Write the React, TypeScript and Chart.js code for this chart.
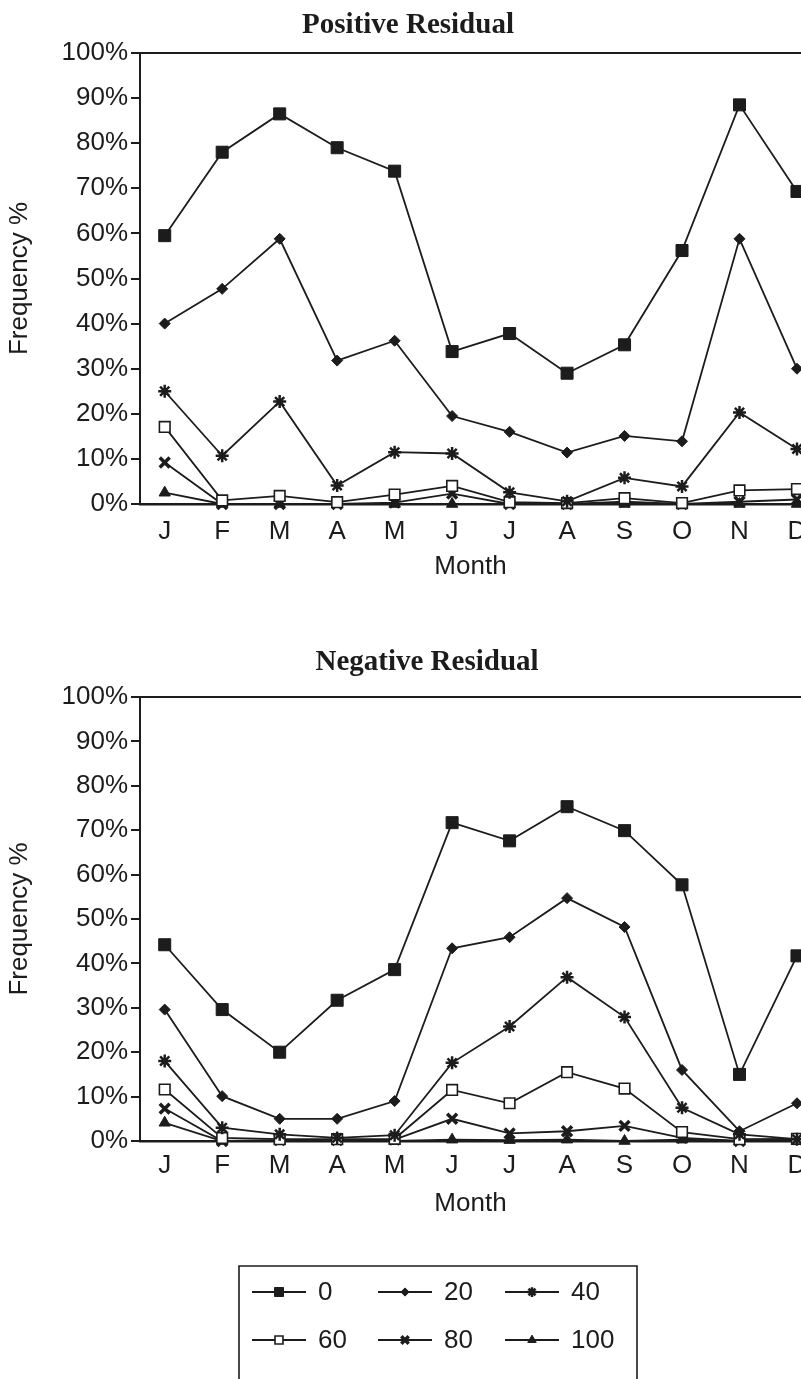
import React, { useEffect, useRef } from "react";
import { Chart, registerables } from "chart.js";
import { drawPoint } from "chart.js/helpers";

Chart.register(...registerables);

// ---------- data ----------
const MONTHS = ["J", "F", "M", "A", "M", "J", "J", "A", "S", "O", "N", "D"];
const Y_TICKS = [0, 10, 20, 30, 40, 50, 60, 70, 80, 90, 100];
const SERIES_LABELS = ["0", "20", "40", "60", "80", "100"];

const POS_0 = [59.5, 78, 86.5, 79, 73.8, 33.8, 37.8, 29, 35.3, 56.2, 88.5, 69.3];
const POS_20 = [40, 47.7, 58.8, 31.8, 36.2, 19.5, 16, 11.4, 15.1, 13.9, 58.8, 30];
const POS_40 = [25, 10.7, 22.7, 4.1, 11.5, 11.2, 2.6, 0.6, 5.8, 3.9, 20.3, 12.2];
const POS_60 = [17.1, 0.8, 1.8, 0.4, 2.1, 4, 0.4, 0.2, 1.3, 0.2, 3, 3.3];
const POS_80 = [9.2, 0, 0, 0, 0.3, 2.3, 0, 0, 0.5, 0, 0.5, 1];
const POS_100 = [2.5, 0, 0, 0, 0, 0, 0, 0, 0, 0, 0, 0];

const NEG_0 = [44.2, 29.6, 20, 31.7, 38.6, 71.7, 67.6, 75.3, 69.9, 57.7, 15, 41.7];
const NEG_20 = [29.6, 10.1, 5, 5, 9, 43.4, 45.9, 54.7, 48.2, 16, 2.2, 8.5];
const NEG_40 = [18, 3, 1.5, 0.7, 1.3, 17.6, 25.8, 36.9, 27.9, 7.5, 1.5, 0.4];
const NEG_60 = [11.6, 0.7, 0.4, 0.4, 0.5, 11.5, 8.5, 15.5, 11.8, 2, 0.4, 0.5];
const NEG_80 = [7.3, 0, 0.2, 0.2, 0.3, 5, 1.7, 2.2, 3.4, 0.7, 0, 0.4];
const NEG_100 = [4.1, 0, 0, 0, 0, 0.3, 0.2, 0.3, 0, 0.3, 0, 0.3];

// ---------- styling ----------
const INK = "#1c1c1c";
const SANS = '"Liberation Sans", Arial, Helvetica, sans-serif';
const SERIF = '"Liberation Serif", "Times New Roman", serif';
const FONT_SIZE = 26;
const X_MIN = -0.43;
const X_MAX = 11.07;

const MARKERS = [
  { style: "rect", radius: 8.5, fill: INK, bw: 1 },
  { style: "rectRot", radius: 5.5, fill: INK, bw: 1 },
  { style: "star", radius: 6.5, fill: INK, bw: 2.5 },
  { style: "rect", radius: 7.5, fill: "#ffffff", bw: 1.6 },
  { style: "crossRot", radius: 7, fill: INK, bw: 3.5 },
  { style: "triangle", radius: 6.5, fill: INK, bw: 1 },
];

function makeDatasets(series: number[][]) {
  return series.map((vals, si) => {
    const m = MARKERS[si];
    return {
      label: SERIES_LABELS[si],
      data: vals.map((v, i) => ({ x: i, y: v })),
      borderColor: INK,
      borderWidth: 1.8,
      pointStyle: m.style,
      pointRadius: m.radius,
      pointBackgroundColor: m.fill,
      pointBorderColor: INK,
      pointBorderWidth: m.bw,
      tension: 0,
      fill: false,
      clip: false,
    };
  });
}

const decorPlugin = {
  id: "decor",
  afterDraw(chart: any, _args: any, o: any) {
    const ctx = chart.ctx as CanvasRenderingContext2D;
    ctx.save();
    if (o.title) {
      ctx.font = `bold 29px ${SERIF}`;
      ctx.fillStyle = INK;
      ctx.textAlign = "center";
      ctx.textBaseline = "alphabetic";
      ctx.fillText(o.title, o.titleX, o.titleY);
    }
    if (o.legend) {
      const L = o.legend;
      ctx.strokeStyle = INK;
      ctx.lineWidth = 1.6;
      ctx.beginPath();
      ctx.moveTo(L.left, chart.height + 4);
      ctx.lineTo(L.left, L.top);
      ctx.lineTo(L.right, L.top);
      ctx.lineTo(L.right, chart.height + 4);
      ctx.stroke();
      chart.data.datasets.forEach((ds: any, i: number) => {
        const x0 = L.colX[i % 3];
        const y = L.rowY[Math.floor(i / 3)];
        ctx.strokeStyle = INK;
        ctx.lineWidth = 2;
        ctx.beginPath();
        ctx.moveTo(x0, y);
        ctx.lineTo(x0 + L.lineLen, y);
        ctx.stroke();
        ctx.fillStyle = ds.pointBackgroundColor;
        ctx.strokeStyle = ds.pointBorderColor;
        ctx.lineWidth = ds.pointBorderWidth;
        drawPoint(ctx, { pointStyle: ds.pointStyle, radius: ds.pointRadius * 0.75, rotation: 0, borderWidth: ds.pointBorderWidth } as any, x0 + L.lineLen / 2, y);
        ctx.fillStyle = INK;
        ctx.font = `${FONT_SIZE}px ${SANS}`;
        ctx.textAlign = "left";
        ctx.textBaseline = "middle";
        ctx.fillText(ds.label, x0 + L.textOff, y + 1);
      });
    }
    ctx.restore();
  },
};

function makeConfig(series: number[][], p: any) {
  const font = { family: SANS, size: FONT_SIZE };
  return {
    type: "line",
    data: { datasets: makeDatasets(series) },
    plugins: [decorPlugin],
    options: {
      responsive: false,
      animation: false,
      devicePixelRatio: 1,
      events: [],
      layout: { autoPadding: false, padding: { top: p.padTop, bottom: p.padBottom, left: 0, right: 0 } },
      plugins: {
        legend: { display: false },
        tooltip: { enabled: false },
        decor: { title: p.title, titleX: p.titleX, titleY: p.titleY, legend: p.legend },
      },
      scales: {
        x: {
          type: "linear",
          position: "bottom",
          min: X_MIN,
          max: X_MAX,
          afterBuildTicks: (s: any) => {
            s.ticks = MONTHS.map((_, i) => ({ value: i }));
          },
          ticks: {
            callback: (v: any) => MONTHS[v],
            font,
            color: INK,
            padding: p.xPad,
            autoSkip: false,
            maxRotation: 0,
          },
          grid: { display: false, drawTicks: false },
          border: { display: true, color: INK, width: 2.5 },
          title: { display: true, text: "Month", font, color: INK, padding: { top: 0, bottom: 22 } },
          afterFit: (s: any) => {
            s.height = 100;
            s.paddingLeft = 0;
            s.paddingRight = 0;
          },
        },
        x2: {
          type: "linear",
          position: "top",
          min: X_MIN,
          max: X_MAX,
          ticks: { display: false },
          grid: { display: false, drawTicks: false },
          border: { display: true, color: INK, width: 2 },
          afterFit: (s: any) => {
            s.height = 0;
            s.paddingLeft = 0;
            s.paddingRight = 0;
          },
        },
        y: {
          type: "linear",
          position: "left",
          min: 0,
          max: 100,
          afterBuildTicks: (s: any) => {
            s.ticks = Y_TICKS.map((v) => ({ value: v }));
          },
          ticks: { callback: (v: any) => `${v}%`, font, color: INK, padding: 3 },
          grid: { display: true, drawOnChartArea: false, drawTicks: true, tickLength: 9, color: INK, lineWidth: 2 },
          border: { display: true, color: INK, width: 2 },
          title: { display: true, text: "Frequency %", font, color: INK, padding: { top: 4, bottom: 0 } },
          afterFit: (s: any) => {
            s.width = 140;
            s.paddingTop = 0;
            s.paddingBottom = 0;
          },
        },
      },
    },
  };
}

function ChartCanvas({ top, height, build }: { top: number; height: number; build: () => any }) {
  const ref = useRef<HTMLCanvasElement>(null);
  useEffect(() => {
    const chart = new Chart(ref.current as HTMLCanvasElement, build());
    return () => chart.destroy();
  }, []);
  return (
    <canvas
      ref={ref}
      width={801}
      height={height}
      style={{ position: "absolute", left: 0, top, width: 801, height, display: "block" }}
    />
  );
}

const TOP_H = 620;
const BOT_H = 759;

export default function App() {
  return (
    <div style={{ position: "absolute", left: 0, top: 0, width: 801, height: 1379, background: "#ffffff", overflow: "hidden" }}>
      <ChartCanvas
        top={0}
        height={TOP_H}
        build={() =>
          makeConfig([POS_0, POS_20, POS_40, POS_60, POS_80, POS_100], {
            padTop: 53,
            padBottom: TOP_H - 504 - 100,
            title: "Positive Residual",
            titleX: 408,
            titleY: 33,
            xPad: 12,
          })
        }
      />
      <ChartCanvas
        top={TOP_H}
        height={BOT_H}
        build={() =>
          makeConfig([NEG_0, NEG_20, NEG_40, NEG_60, NEG_80, NEG_100], {
            padTop: 697 - TOP_H,
            padBottom: BOT_H - (1141 - TOP_H) - 100,
            title: "Negative Residual",
            titleX: 427,
            titleY: 670 - TOP_H,
            xPad: 9,
            legend: {
              left: 239,
              right: 637,
              top: 1266 - TOP_H,
              colX: [252, 378, 505],
              rowY: [1292 - TOP_H, 1340 - TOP_H],
              lineLen: 54,
              textOff: 66,
            },
          })
        }
      />
    </div>
  );
}
